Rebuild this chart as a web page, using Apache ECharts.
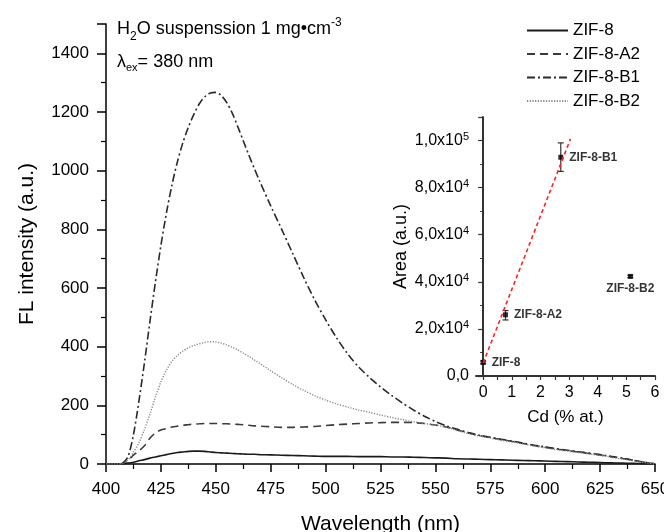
<!DOCTYPE html>
<html>
<head>
    <meta charset="utf-8">
    <title>FL intensity</title>
    <script src="https://cdn.jsdelivr.net/npm/echarts@6/dist/echarts.min.js"></script>
</head>
<body style="margin:0">
    <div id="main" style="width:664px; height:532px;"></div>
    <script>
        // 主图数据：波长 (nm) 与四条荧光曲线
        var wavelength = [400, 405, 407.5, 410, 412.5, 415, 417.5, 420, 422.5, 425, 427.5, 430, 432.5, 435, 437.5,
            440, 442.5, 445, 447.5, 450, 452.5, 455, 457.5, 460, 462.5, 465, 467.5, 470,
            475, 480, 485, 490, 495, 500, 505, 510, 515, 520, 525, 530, 535, 540, 545, 550, 555, 560,
            565, 570, 575, 580, 585, 590, 595, 600, 605, 610, 615, 620, 625, 630, 635, 640, 645, 650]
        var zif8 = [0, 0, 1, 3, 6, 11, 15, 20, 24, 28, 32, 36, 39, 41, 43,
            44, 44, 43, 41, 39, 38, 37, 36, 35, 34, 33, 33, 32,
            31, 30, 29, 28, 27, 26, 26, 26, 25, 25, 25, 24, 24, 23, 22, 21, 20, 18,
            17, 16, 15, 14, 13, 12, 11, 10, 9, 8, 7, 6, 5, 4, 3, 2, 1, 0]
        var zif8A2 = [0, 0, 2, 12, 30, 45, 62, 88, 106, 116, 121, 126, 129, 132, 134,
            136, 137, 138, 138, 138, 137, 137, 136, 135, 134, 132, 130, 129,
            127, 125, 125, 126, 128, 131, 134, 136, 138, 140, 141, 142, 142, 141, 138, 133, 126, 116,
            106, 97, 90, 83, 77, 70, 63, 57, 51, 46, 41, 36, 31, 25, 19, 13, 6, 1]
        var zif8B1 = [0, 0, 3, 25, 100, 215, 345, 485, 620, 745, 855, 950, 1030, 1095, 1148,
            1192, 1228, 1252, 1265, 1267, 1256, 1232, 1196, 1150, 1102, 1054, 1008, 964,
            880, 800, 718, 636, 560, 492, 430, 376, 331, 295, 263, 234, 208, 184, 163, 145, 130, 118,
            107, 98, 91, 84, 78, 71, 64, 58, 52, 47, 42, 37, 32, 26, 20, 13, 6, 1]
        var zif8B2 = [0, 0, 2, 14, 40, 72, 118, 170, 228, 280, 320, 350, 370, 385, 396,
            404, 410, 414, 417, 416, 412, 406, 398, 389, 378, 367, 355, 343,
            318, 294, 271, 251, 233, 218, 205, 194, 184, 176, 167, 159, 151, 144, 138, 133, 125, 114,
            104, 95, 88, 81, 75, 68, 61, 55, 49, 44, 39, 34, 29, 23, 17, 11, 5, 0]

        // 插图数据：Cd 含量与面积
        var insetNames = ['ZIF-8', 'ZIF-8-A2', 'ZIF-8-B1', 'ZIF-8-B2']
        var insetCd = [0, 0.78, 2.71, 5.14]
        var insetArea = [5800, 26000, 92900, 42300]
        var insetLow = [5200, 23800, 86900, 41800]
        var insetHigh = [6400, 27800, 99000, 42800]
        var fitCd = [0, 3.05]
        var fitArea = [5500, 100700]
        var insetXLabels = [0, 1, 2, 3, 4, 5, 6]
        var insetXTicks = [0, 0.5, 1, 1.5, 2, 2.5, 3, 3.5, 4, 4.5, 5, 5.5, 6]

        var font = 'Liberation Sans, Arial, sans-serif'

        var pairs = function(xs, ys) {
            var out = []
            for (var i = 0; i < xs.length; i++) {
                out.push([xs[i], ys[i]])
            }
            return out
        }

        var sciLabel = function(v) {
            if (v == 0) {
                return '0,0'
            }
            var e = Math.floor(Math.log10(v) + 1e-9)
            var m = v / Math.pow(10, e)
            return m.toFixed(1).replace('.', ',') + 'x10{sup|' + e + '}'
        }

        var mainLine = function(name, data, color, type, width) {
            return {
                name: name,
                type: 'line',
                xAxisIndex: 0,
                yAxisIndex: 0,
                data: pairs(wavelength, data),
                symbol: 'none',
                smooth: 0.3,
                lineStyle: {color: color, type: type, width: width},
                itemStyle: {color: color}
            }
        }

        var element = document.querySelector('#main')
        var myChart = echarts.init(element)

        var scatterData = []
        for (var i = 0; i < insetCd.length; i++) {
            scatterData.push({
                name: insetNames[i],
                value: [insetCd[i], insetArea[i]],
                label: i == 3 ? {position: 'bottom', distance: 4} : {position: 'right', distance: 6}
            })
        }
        var errData = []
        for (var j = 0; j < insetCd.length; j++) {
            errData.push([insetCd[j], insetLow[j], insetHigh[j]])
        }

        var option = {
            animation: false,
            textStyle: {fontFamily: font},
            grid: [
                {left: 106, right: 9, top: 24, bottom: 68, containLabel: false, outerBoundsMode: 'none'},
                {left: 476, right: 9, top: 117, bottom: 156, containLabel: false, outerBoundsMode: 'none'}
            ],
            legend: {
                orient: 'vertical',
                left: 521,
                top: 17,
                itemWidth: 41,
                itemHeight: 12,
                itemGap: 6.5,
                itemStyle: {opacity: 0},
                textStyle: {fontSize: 17, color: '#000', fontFamily: font},
                data: ['ZIF-8', 'ZIF-8-A2', 'ZIF-8-B1', 'ZIF-8-B2']
            },
            graphic: [
                {
                    type: 'text',
                    left: 117,
                    top: 17,
                    style: {
                        text: 'H{sub|2}O suspenssion 1 mg•cm{sup|-3}',
                        font: '18px ' + font,
                        fill: '#000',
                        rich: {
                            sub: {fontSize: 12, fontFamily: font, padding: [16, 0, 0, 0]},
                            sup: {fontSize: 12, fontFamily: font, padding: [0, 0, 12, 0]}
                        }
                    }
                },
                {
                    type: 'text',
                    left: 117,
                    top: 53,
                    style: {
                        text: 'λ{sub|ex}= 380 nm',
                        font: '18px ' + font,
                        fill: '#000',
                        rich: {
                            sub: {fontSize: 11, fontFamily: font, padding: [12, 0, 0, 0]}
                        }
                    }
                }
            ],
            xAxis: [
                {
                    gridIndex: 0,
                    type: 'value',
                    min: 400,
                    max: 650,
                    interval: 25,
                    name: 'Wavelength (nm)',
                    nameLocation: 'middle',
                    nameGap: 50,
                    nameTextStyle: {fontSize: 21, color: '#000'},
                    axisLine: {onZero: false, lineStyle: {color: '#000', width: 1.5}},
                    axisTick: {length: 8, lineStyle: {color: '#000', width: 1.5}},
                    minorTick: {show: true, splitNumber: 2, length: 5, lineStyle: {color: '#000', width: 1.2}},
                    axisLabel: {fontSize: 17, color: '#000', margin: 17},
                    splitLine: {show: false}
                },
                {
                    gridIndex: 1,
                    type: 'value',
                    min: -0.25,
                    max: 6,
                    name: 'Cd (% at.)',
                    nameLocation: 'middle',
                    nameGap: 33,
                    nameTextStyle: {fontSize: 17, color: '#000'},
                    axisLine: {onZero: false, lineStyle: {color: '#333', width: 2}},
                    axisTick: {length: 4, customValues: insetXTicks, lineStyle: {color: '#333', width: 1.2}},
                    axisLabel: {fontSize: 16, color: '#000', margin: 9, customValues: insetXLabels},
                    splitLine: {show: false}
                }
            ],
            yAxis: [
                {
                    gridIndex: 0,
                    type: 'value',
                    min: 0,
                    max: 1500,
                    interval: 200,
                    name: 'FL intensity (a.u.)',
                    nameLocation: 'middle',
                    nameGap: 68,
                    nameTextStyle: {fontSize: 21, color: '#000'},
                    axisLine: {show: true, lineStyle: {color: '#000', width: 1.5}},
                    axisTick: {show: true, length: 9, lineStyle: {color: '#000', width: 1.5}},
                    minorTick: {show: true, splitNumber: 2, length: 5, lineStyle: {color: '#000', width: 1.2}},
                    axisLabel: {
                        fontSize: 17,
                        color: '#000',
                        margin: 17,
                        showMaxLabel: false,
                        formatter: function(v) {
                            return String(v)
                        }
                    },
                    splitLine: {show: false}
                },
                {
                    gridIndex: 1,
                    type: 'value',
                    min: 0,
                    max: 110000,
                    interval: 20000,
                    name: 'Area (a.u.)',
                    nameLocation: 'middle',
                    nameGap: 66,
                    nameTextStyle: {fontSize: 18, color: '#000'},
                    axisLine: {show: true, lineStyle: {color: '#333', width: 2}},
                    axisTick: {show: true, length: 5, lineStyle: {color: '#333', width: 1.2}},
                    minorTick: {show: true, splitNumber: 2, length: 3, lineStyle: {color: '#333', width: 1}},
                    axisLabel: {
                        fontSize: 16,
                        color: '#000',
                        margin: 7,
                        showMaxLabel: false,
                        formatter: sciLabel,
                        rich: {sup: {fontSize: 11, padding: [0, 0, 8, 0]}}
                    },
                    splitLine: {show: false}
                }
            ],
            series: [
                mainLine('ZIF-8', zif8, '#1a1a1a', 'solid', 1.6),
                mainLine('ZIF-8-A2', zif8A2, '#3a3a3a', [8, 5], 1.6),
                mainLine('ZIF-8-B1', zif8B1, '#2a2a2a', [8, 3, 2, 3], 1.6),
                mainLine('ZIF-8-B2', zif8B2, '#888888', [1.2, 1.5], 1.4),
                {
                    type: 'custom',
                    xAxisIndex: 1,
                    yAxisIndex: 1,
                    data: errData,
                    renderItem: function(params, api) {
                        var lo = api.coord([api.value(0), api.value(1)])
                        var hi = api.coord([api.value(0), api.value(2)])
                        var w = 3
                        var st = {stroke: '#333', lineWidth: 1.2}
                        return {
                            type: 'group',
                            children: [
                                {type: 'line', shape: {x1: lo[0], y1: lo[1], x2: hi[0], y2: hi[1]}, style: st},
                                {type: 'line', shape: {x1: lo[0] - w, y1: lo[1], x2: lo[0] + w, y2: lo[1]}, style: st},
                                {type: 'line', shape: {x1: hi[0] - w, y1: hi[1], x2: hi[0] + w, y2: hi[1]}, style: st}
                            ]
                        }
                    }
                },
                {
                    type: 'scatter',
                    xAxisIndex: 1,
                    yAxisIndex: 1,
                    data: scatterData,
                    symbol: 'rect',
                    symbolSize: 5,
                    itemStyle: {color: '#000'},
                    label: {
                        show: true,
                        formatter: '{b}',
                        fontSize: 12,
                        fontWeight: 'bold',
                        color: '#000'
                    }
                },
                {
                    type: 'line',
                    xAxisIndex: 1,
                    yAxisIndex: 1,
                    data: pairs(fitCd, fitArea),
                    symbol: 'none',
                    lineStyle: {color: '#ff2020', type: [4, 3], width: 1.6}
                }
            ]
        }

        myChart.setOption(option)
    </script>
</body>
</html>
